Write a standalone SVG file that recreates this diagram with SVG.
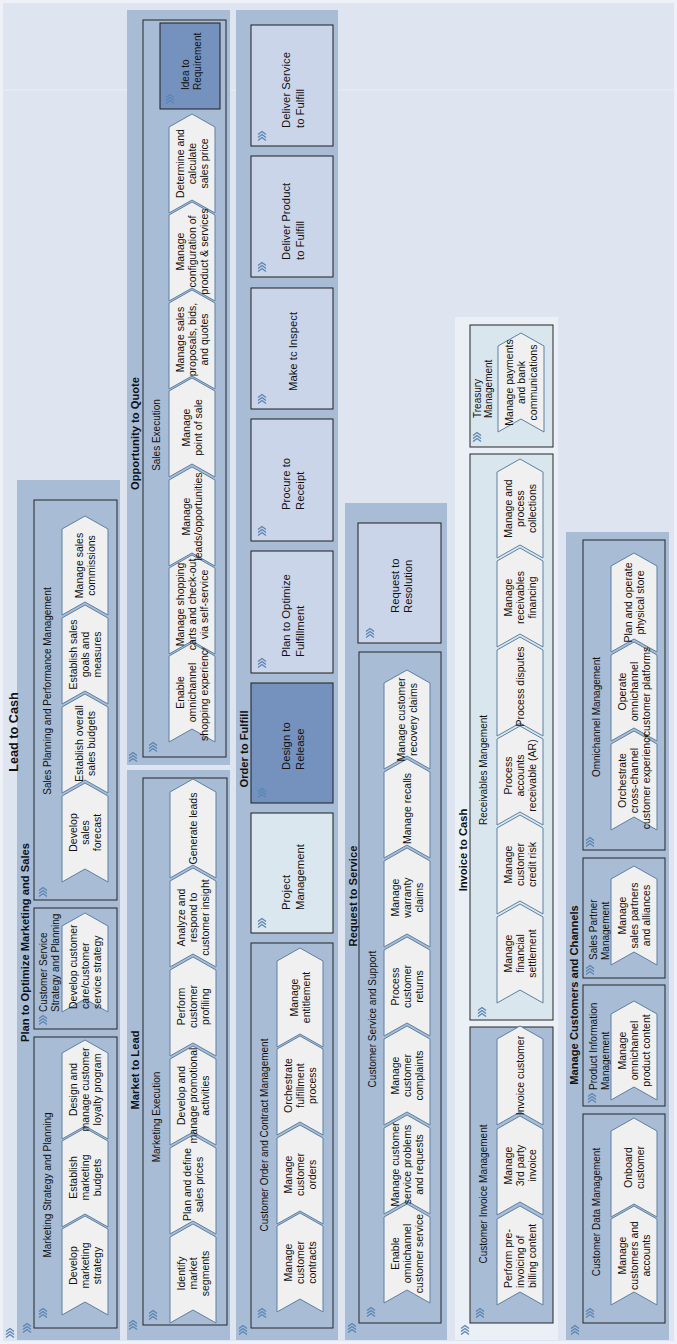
<svg xmlns="http://www.w3.org/2000/svg" width="677" height="1344" viewBox="0 0 677 1344">
<defs>
<style>
.bg{fill:#EEF1F7}
.ctr{fill:#DFE5F0}
.lane{fill:#A9BCD6}
.laneL{fill:#EBEFF6}
.grp{fill:#A9BCD6;stroke:#262626;stroke-width:1}
.grpL{fill:#D9E6EE;stroke:#262626;stroke-width:1}
.chev{fill:#F0F0F0;stroke:#5C80A2;stroke-width:1}
.proc{fill:#CBD5EA;stroke:#1e1e1e;stroke-width:1}
.dark{fill:#7592BF}
.pm{fill:#DAE7EF}
.ic{fill:none;stroke:#5A85B3;stroke-width:1.3}
text{font-family:"Liberation Sans",Arial,sans-serif;fill:#111}
.lt{font-size:11.2px;font-weight:bold;text-anchor:middle}
.gt{font-size:10px;text-anchor:middle}
.gs{font-size:10px}
.ct{font-size:10.5px;text-anchor:middle}
.cs{font-size:10.5px}
.pt{font-size:11.3px}
</style>
<path id="chev" class="chev" d="M0,0H86L99,23L86,46H0L13,23Z"/>
<path id="ic" class="ic" d="M-4.5,-4L-1.5,0L-4.5,4M-1.5,-4L1.5,0L-1.5,4M1.5,-4L4.5,0L1.5,4"/>
</defs>
<rect class="bg" width="677" height="1344"/>
<g transform="matrix(0,-1,1,0,0,1344)">
<g id="lead-to-cash">
<rect class="ctr" x="3" y="3" width="1338" height="671"/>
<line x1="1254" y1="3" x2="1254" y2="674" stroke="#E9EDF5" stroke-width="1"/>
<use href="#ic" x="11" y="10"/>
</g>

<g id="lane-plan-optimize">
<rect class="lane" x="4" y="17" width="860" height="103"/>
<use href="#ic" x="16" y="27"/>
<text class="lt" x="401.5" y="29">Plan to Optimize Marketing and Sales</text>
<g id="g-marketing-strategy">
<rect class="grp" x="16" y="34" width="291" height="83"/>
<use href="#ic" x="31" y="43"/>
<text class="gt" x="159" y="51">Marketing Strategy and Planning</text>
<g id="c-develop-marketing-strategy"><use href="#chev" x="29" y="62"/><text class="ct"><tspan x="78.5" y="76.7">Develop</tspan><tspan x="78.5" y="88.7">marketing</tspan><tspan x="78.5" y="100.7">strategy</tspan></text></g>
<g id="c-establish-marketing-budgets"><use href="#chev" x="117" y="62"/><text class="ct"><tspan x="166.5" y="76.7">Establish</tspan><tspan x="166.5" y="88.7">marketing</tspan><tspan x="166.5" y="100.7">budgets</tspan></text></g>
<g id="c-loyalty-program"><use href="#chev" x="205" y="62"/><text class="ct"><tspan x="254.5" y="76.7">Design and</tspan><tspan x="254.5" y="88.7">manage customer</tspan><tspan x="254.5" y="100.7">loyalty program</tspan></text></g>
</g>
<g id="g-customer-service-strategy">
<rect class="grp" x="315" y="34" width="121" height="83"/>
<use href="#ic" x="324" y="43"/>
<text class="gs"><tspan x="332" y="47">Customer Service</tspan><tspan x="332" y="58.5">Strategy and Planning</tspan></text>
<g id="c-customer-care-strategy"><use href="#chev" x="332" y="62"/><text class="cs"><tspan x="335" y="76.7">Develop customer</tspan><tspan x="335" y="88.7">care/customer</tspan><tspan x="335" y="100.7">service strategy</tspan></text></g>
</g>
<g id="g-sales-planning">
<rect class="grp" x="444" y="34" width="400" height="83"/>
<use href="#ic" x="452" y="43"/>
<text class="gt" x="653" y="51">Sales Planning and Performance Management</text>
<g id="c-sales-forecast"><use href="#chev" x="462" y="62"/><text class="ct"><tspan x="511.5" y="76.7">Develop</tspan><tspan x="511.5" y="88.7">sales</tspan><tspan x="511.5" y="100.7">forecast</tspan></text></g>
<g id="c-sales-budgets"><use href="#chev" x="551" y="62"/><text class="ct"><tspan x="600.5" y="82.7">Establish overall</tspan><tspan x="600.5" y="94.7">sales budgets</tspan></text></g>
<g id="c-sales-goals"><use href="#chev" x="640" y="62"/><text class="ct"><tspan x="689.5" y="76.7">Establish sales</tspan><tspan x="689.5" y="88.7">goals and</tspan><tspan x="689.5" y="100.7">measures</tspan></text></g>
<g id="c-sales-commissions"><use href="#chev" x="729" y="62"/><text class="ct"><tspan x="778.5" y="82.7">Manage sales</tspan><tspan x="778.5" y="94.7">commissions</tspan></text></g>
</g>
</g>

<g id="lane-market-to-lead">
<rect class="lane" x="4" y="127" width="570" height="103"/>
<use href="#ic" x="19" y="133"/>
<text class="lt" x="274" y="139">Market to Lead</text>
<g id="g-marketing-execution">
<rect class="grp" x="19" y="143" width="547" height="84"/>
<use href="#ic" x="29" y="153"/>
<text class="gt" x="227" y="160">Marketing Execution</text>
<g id="c-market-segments"><use href="#chev" x="21" y="170"/><text class="ct"><tspan x="70.5" y="184.7">Identify</tspan><tspan x="70.5" y="196.7">market</tspan><tspan x="70.5" y="208.7">segments</tspan></text></g>
<g id="c-sales-prices"><use href="#chev" x="110" y="170"/><text class="ct"><tspan x="159.5" y="190.7">Plan and define</tspan><tspan x="159.5" y="202.7">sales prices</tspan></text></g>
<g id="c-promotional"><use href="#chev" x="199" y="170"/><text class="ct"><tspan x="248.5" y="184.7">Develop and</tspan><tspan x="248.5" y="196.7">manage promotional</tspan><tspan x="248.5" y="208.7">activities</tspan></text></g>
<g id="c-profiling"><use href="#chev" x="288" y="170"/><text class="ct"><tspan x="337.5" y="184.7">Perform</tspan><tspan x="337.5" y="196.7">customer</tspan><tspan x="337.5" y="208.7">profiling</tspan></text></g>
<g id="c-insight"><use href="#chev" x="377" y="170"/><text class="ct"><tspan x="426.5" y="184.7">Analyze and</tspan><tspan x="426.5" y="196.7">respond to</tspan><tspan x="426.5" y="208.7">customer insight</tspan></text></g>
<g id="c-generate-leads"><use href="#chev" x="466" y="170"/><text class="ct" x="515.5" y="196.7">Generate leads</text></g>
</g>
</g>

<g id="lane-opportunity-to-quote">
<rect class="lane" x="579" y="127" width="755" height="103"/>
<use href="#ic" x="587" y="133"/>
<text class="lt" x="910.5" y="139">Opportunity to Quote</text>
<g id="g-sales-execution">
<rect class="grp" x="587" y="143" width="737" height="83"/>
<use href="#ic" x="597" y="153"/>
<text class="gt" x="909" y="160">Sales Execution</text>
<g id="c-shopping-experience"><use href="#chev" x="602" y="169"/><text class="ct"><tspan x="651.5" y="183.7">Enable</tspan><tspan x="651.5" y="195.7">omnichannel</tspan><tspan x="651.5" y="207.7">shopping experience</tspan></text></g>
<g id="c-shopping-carts"><use href="#chev" x="690" y="169"/><text class="ct"><tspan x="739.5" y="183.7">Manage shopping</tspan><tspan x="739.5" y="195.7">carts and check-out</tspan><tspan x="739.5" y="207.7">via self-service</tspan></text></g>
<g id="c-leads-opportunities"><use href="#chev" x="778" y="169"/><text class="ct"><tspan x="827.5" y="189.7">Manage</tspan><tspan x="827.5" y="201.7">leads/opportunities</tspan></text></g>
<g id="c-point-of-sale"><use href="#chev" x="867" y="169"/><text class="ct"><tspan x="916.5" y="189.7">Manage</tspan><tspan x="916.5" y="201.7">point of sale</tspan></text></g>
<g id="c-proposals"><use href="#chev" x="955" y="169"/><text class="ct"><tspan x="1004.5" y="183.7">Manage sales</tspan><tspan x="1004.5" y="195.7">proposals, bids,</tspan><tspan x="1004.5" y="207.7">and quotes</tspan></text></g>
<g id="c-configuration"><use href="#chev" x="1043" y="169"/><text class="ct"><tspan x="1092.5" y="183.7">Manage</tspan><tspan x="1092.5" y="195.7">configuration of</tspan><tspan x="1092.5" y="207.7">product &amp; services</tspan></text></g>
<g id="c-sales-price"><use href="#chev" x="1131" y="169"/><text class="ct"><tspan x="1180.5" y="183.7">Determine and</tspan><tspan x="1180.5" y="195.7">calculate</tspan><tspan x="1180.5" y="207.7">sales price</tspan></text></g>
<g id="p-idea-to-requirement"><rect class="proc dark" x="1235" y="160" width="86" height="60"/><use href="#ic" x="1245" y="170"/><text class="gs"><tspan x="1254" y="189">Idea to</tspan><tspan x="1254" y="201">Requirement</tspan></text></g>
</g>
</g>

<g id="lane-order-to-fulfill">
<rect class="lane" x="4" y="236" width="1330" height="102"/>
<use href="#ic" x="14" y="243"/>
<text class="lt" x="595" y="248">Order to Fulfill</text>
<g id="g-customer-order">
<rect class="grp" x="16" y="251" width="385" height="82"/>
<use href="#ic" x="31" y="262"/>
<text class="gt" x="209" y="268">Customer Order and Contract Management</text>
<g id="c-contracts"><use href="#chev" x="32" y="277"/><text class="ct"><tspan x="81.5" y="291.7">Manage</tspan><tspan x="81.5" y="303.7">customer</tspan><tspan x="81.5" y="315.7">contracts</tspan></text></g>
<g id="c-orders"><use href="#chev" x="120" y="277"/><text class="ct"><tspan x="169.5" y="291.7">Manage</tspan><tspan x="169.5" y="303.7">customer</tspan><tspan x="169.5" y="315.7">orders</tspan></text></g>
<g id="c-orchestrate-fulfillment"><use href="#chev" x="209" y="277"/><text class="ct"><tspan x="258.5" y="291.7">Orchestrate</tspan><tspan x="258.5" y="303.7">fulfillment</tspan><tspan x="258.5" y="315.7">process</tspan></text></g>
<g id="c-entitlement"><use href="#chev" x="297" y="277"/><text class="ct"><tspan x="346.5" y="297.7">Manage</tspan><tspan x="346.5" y="309.7">entitlement</tspan></text></g>
</g>
<g id="p-project-management"><rect class="proc pm" x="411" y="251" width="120" height="82"/><use href="#ic" x="421" y="262"/><text class="pt"><tspan x="434" y="290">Project</tspan><tspan x="434" y="304">Management</tspan></text></g>
<g id="p-design-to-release"><rect class="proc dark" x="541" y="251" width="120" height="82"/><use href="#ic" x="551" y="262"/><text class="pt"><tspan x="574" y="290">Design to</tspan><tspan x="574" y="304">Release</tspan></text></g>
<g id="p-plan-to-optimize-fulfillment"><rect class="proc" x="671" y="251" width="122" height="82"/><use href="#ic" x="681" y="262"/><text class="pt"><tspan x="687" y="290">Plan to Optimize</tspan><tspan x="687" y="304">Fulfillment</tspan></text></g>
<g id="p-procure-to-receipt"><rect class="proc" x="803" y="251" width="122" height="82"/><use href="#ic" x="813" y="262"/><text class="pt"><tspan x="834" y="290">Procure to</tspan><tspan x="834" y="304">Receipt</tspan></text></g>
<g id="p-make-to-inspect"><rect class="proc" x="935" y="251" width="121" height="82"/><use href="#ic" x="945" y="262"/><text class="pt" x="953" y="297">Make tc Inspect</text></g>
<g id="p-deliver-product"><rect class="proc" x="1067" y="251" width="121" height="82"/><use href="#ic" x="1077" y="262"/><text class="pt"><tspan x="1084" y="290">Deliver Product</tspan><tspan x="1084" y="304">to Fulfill</tspan></text></g>
<g id="p-deliver-service"><rect class="proc" x="1198" y="251" width="121" height="82"/><use href="#ic" x="1208" y="262"/><text class="pt"><tspan x="1216" y="290">Deliver Service</tspan><tspan x="1216" y="304">to Fulfill</tspan></text></g>
</g>

<g id="lane-request-to-service">
<rect class="lane" x="4" y="345" width="837" height="102"/>
<use href="#ic" x="16" y="352"/>
<text class="lt" x="448" y="357">Request to Service</text>
<g id="g-customer-service-support">
<rect class="grp" x="21" y="359" width="671" height="82"/>
<use href="#ic" x="32" y="371"/>
<text class="gt" x="325" y="376">Customer Service and Support</text>
<g id="c-omnichannel-service"><use href="#chev" x="41" y="384"/><text class="ct"><tspan x="90.5" y="398.7">Enable</tspan><tspan x="90.5" y="410.7">omnichannel</tspan><tspan x="90.5" y="422.7">customer service</tspan></text></g>
<g id="c-service-problems"><use href="#chev" x="130" y="384"/><text class="ct"><tspan x="179.5" y="398.7">Manage customer</tspan><tspan x="179.5" y="410.7">service problems</tspan><tspan x="179.5" y="422.7">and requests</tspan></text></g>
<g id="c-complaints"><use href="#chev" x="219" y="384"/><text class="ct"><tspan x="268.5" y="398.7">Manage</tspan><tspan x="268.5" y="410.7">customer</tspan><tspan x="268.5" y="422.7">complaints</tspan></text></g>
<g id="c-returns"><use href="#chev" x="308" y="384"/><text class="ct"><tspan x="357.5" y="398.7">Process</tspan><tspan x="357.5" y="410.7">customer</tspan><tspan x="357.5" y="422.7">returns</tspan></text></g>
<g id="c-warranty"><use href="#chev" x="397" y="384"/><text class="ct"><tspan x="446.5" y="398.7">Manage</tspan><tspan x="446.5" y="410.7">warranty</tspan><tspan x="446.5" y="422.7">claims</tspan></text></g>
<g id="c-recalls"><use href="#chev" x="486" y="384"/><text class="ct" x="535.5" y="410.7">Manage recalls</text></g>
<g id="c-recovery-claims"><use href="#chev" x="575" y="384"/><text class="ct"><tspan x="624.5" y="404.7">Manage customer</tspan><tspan x="624.5" y="416.7">recovery claims</tspan></text></g>
</g>
<g id="p-request-to-resolution"><rect class="proc" x="701" y="358" width="120" height="83"/><use href="#ic" x="711" y="370"/><text class="pt"><tspan x="731" y="399">Request to</tspan><tspan x="731" y="412">Resolution</tspan></text></g>
</g>

<g id="lane-invoice-to-cash">
<rect class="laneL" x="4" y="455" width="1023" height="103"/>
<use href="#ic" x="14" y="465"/>
<text class="lt" x="494" y="467">Invoice to Cash</text>
<g id="g-customer-invoice">
<rect class="grp" x="21" y="470" width="296" height="83"/>
<use href="#ic" x="31" y="480"/>
<text class="gt" x="150" y="487">Customer Invoice Management</text>
<g id="c-pre-invoicing"><use href="#chev" x="39" y="497"/><text class="cs"><tspan x="56" y="511.7">Perform pre-</tspan><tspan x="56" y="523.7">invoicing of</tspan><tspan x="56" y="535.7">billing content</tspan></text></g>
<g id="c-3rd-party"><use href="#chev" x="129" y="497"/><text class="ct"><tspan x="178.5" y="511.7">Manage</tspan><tspan x="178.5" y="523.7">3rd party</tspan><tspan x="178.5" y="535.7">invoice</tspan></text></g>
<g id="c-invoice-customer"><use href="#chev" x="219" y="497"/><text class="ct" x="268.5" y="523.7">Invoice customer</text></g>
</g>
<g id="g-receivables">
<rect class="grpL" x="324" y="470" width="566" height="83"/>
<use href="#ic" x="332" y="482"/>
<text class="gt" x="574" y="487">Receivables Mangement</text>
<g id="c-financial-settlement"><use href="#chev" x="341" y="497"/><text class="ct"><tspan x="390.5" y="511.7">Manage</tspan><tspan x="390.5" y="523.7">financial</tspan><tspan x="390.5" y="535.7">settlement</tspan></text></g>
<g id="c-credit-risk"><use href="#chev" x="430" y="497"/><text class="ct"><tspan x="479.5" y="511.7">Manage</tspan><tspan x="479.5" y="523.7">customer</tspan><tspan x="479.5" y="535.7">credit risk</tspan></text></g>
<g id="c-accounts-receivable"><use href="#chev" x="519" y="497"/><text class="ct"><tspan x="568.5" y="511.7">Process</tspan><tspan x="568.5" y="523.7">accounts</tspan><tspan x="568.5" y="535.7">receivable (AR)</tspan></text></g>
<g id="c-disputes"><use href="#chev" x="608" y="497"/><text class="ct" x="657.5" y="523.7">Process disputes</text></g>
<g id="c-receivables-financing"><use href="#chev" x="697" y="497"/><text class="ct"><tspan x="746.5" y="511.7">Manage</tspan><tspan x="746.5" y="523.7">receivables</tspan><tspan x="746.5" y="535.7">financing</tspan></text></g>
<g id="c-collections"><use href="#chev" x="786" y="497"/><text class="ct"><tspan x="835.5" y="511.7">Manage and</tspan><tspan x="835.5" y="523.7">process</tspan><tspan x="835.5" y="535.7">collections</tspan></text></g>
</g>
<g id="g-treasury">
<rect class="grpL" x="897" y="470" width="122" height="83"/>
<use href="#ic" x="907" y="477"/>
<text class="gs"><tspan x="926" y="481">Treasury</tspan><tspan x="926" y="492">Management</tspan></text>
<g id="c-payments"><use href="#chev" x="912" y="498"/><text class="ct"><tspan x="961.5" y="512.7">Manage payments</tspan><tspan x="961.5" y="524.7">and bank</tspan><tspan x="961.5" y="536.7">communications</tspan></text></g>
</g>
</g>

<g id="lane-manage-customers">
<rect class="lane" x="4" y="566" width="808" height="103"/>
<use href="#ic" x="14" y="575"/>
<text class="lt" x="349" y="578">Manage Customers and Channels</text>
<g id="g-customer-data">
<rect class="grp" x="21" y="583" width="209" height="82"/>
<use href="#ic" x="31" y="590"/>
<text class="gt" x="132" y="600">Customer Data Management</text>
<g id="c-customers-accounts"><use href="#chev" x="39" y="611"/><text class="ct"><tspan x="88.5" y="625.7">Manage</tspan><tspan x="88.5" y="637.7">customers and</tspan><tspan x="88.5" y="649.7">accounts</tspan></text></g>
<g id="c-onboard"><use href="#chev" x="127" y="611"/><text class="ct"><tspan x="176.5" y="631.7">Onboard</tspan><tspan x="176.5" y="643.7">customer</tspan></text></g>
</g>
<g id="g-product-information">
<rect class="grp" x="238" y="583" width="121" height="82"/>
<use href="#ic" x="246" y="592"/>
<text class="gs"><tspan x="254" y="597">Product Information</tspan><tspan x="254" y="609">Management</tspan></text>
<g id="c-product-content"><use href="#chev" x="244" y="611"/><text class="ct"><tspan x="293.5" y="625.7">Manage</tspan><tspan x="293.5" y="637.7">omnichannel</tspan><tspan x="293.5" y="649.7">product content</tspan></text></g>
</g>
<g id="g-sales-partner">
<rect class="grp" x="366" y="583" width="120" height="82"/>
<use href="#ic" x="374" y="590"/>
<text class="gs"><tspan x="384" y="597">Sales Partner</tspan><tspan x="384" y="609">Management</tspan></text>
<g id="c-sales-partners"><use href="#chev" x="379" y="611"/><text class="ct"><tspan x="428.5" y="625.7">Manage</tspan><tspan x="428.5" y="637.7">sales partners</tspan><tspan x="428.5" y="649.7">and alliances</tspan></text></g>
</g>
<g id="g-omnichannel">
<rect class="grp" x="494" y="583" width="310" height="82"/>
<use href="#ic" x="502" y="590"/>
<text class="gt" x="627" y="600">Omnichannel Management</text>
<g id="c-cross-channel"><use href="#chev" x="514" y="611"/><text class="ct"><tspan x="563.5" y="625.7">Orchestrate</tspan><tspan x="563.5" y="637.7">cross-channel</tspan><tspan x="563.5" y="649.7">customer experience</tspan></text></g>
<g id="c-customer-platforms"><use href="#chev" x="603" y="611"/><text class="ct"><tspan x="652.5" y="625.7">Operate</tspan><tspan x="652.5" y="637.7">omnichannel</tspan><tspan x="652.5" y="649.7">customer platforms</tspan></text></g>
<g id="c-physical-store"><use href="#chev" x="692" y="611"/><text class="ct"><tspan x="741.5" y="631.7">Plan and operate</tspan><tspan x="741.5" y="643.7">physical store</tspan></text></g>
</g>
</g>
<text id="lead-to-cash-title" class="lt" style="font-size:12.7px" x="612" y="18">Lead to Cash</text>
<g id="connectors"/>
</g>
</svg>
